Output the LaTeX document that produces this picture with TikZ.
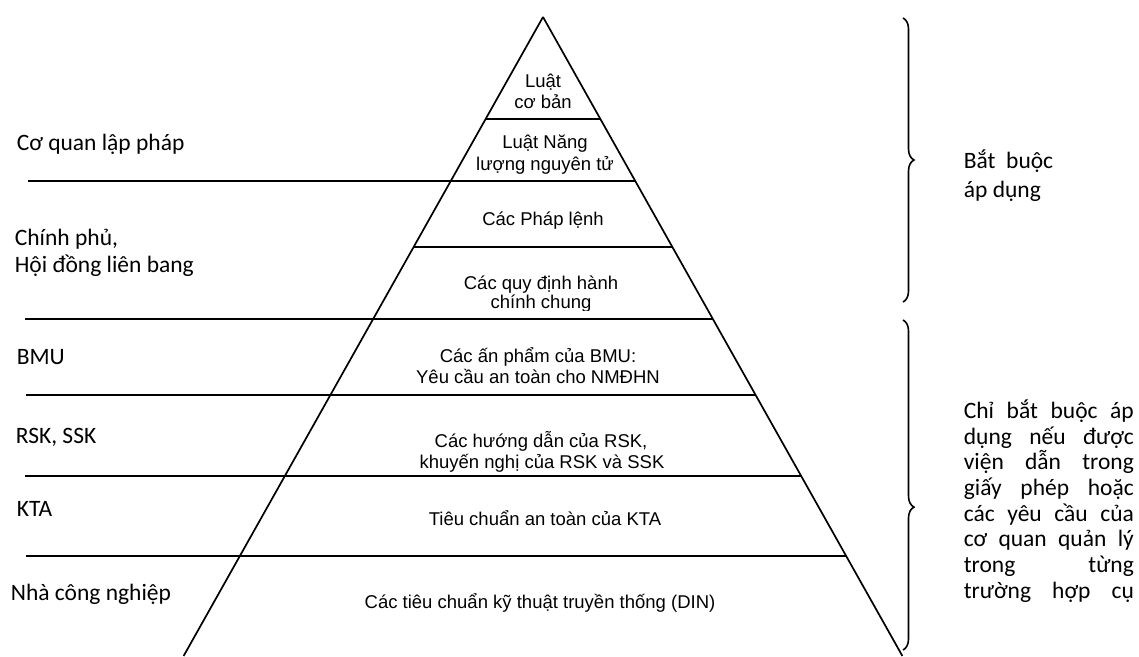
\documentclass[tikz,border=0pt]{standalone}
\usepackage{fontspec}
\setmainfont{Liberation Sans}
\newfontfamily\calibrifont{Carlito}
\usetikzlibrary{calc, decorations.pathreplacing}

\begin{document}
\begin{tikzpicture}[x=1pt, y=-1pt, line width=1.7pt,
  tier/.style={font=\fontsize{18.5}{21.3}\selectfont, inner sep=0pt, anchor=base},
  side/.style={font=\calibrifont\fontsize{23.5}{27}\selectfont, inner sep=0pt, anchor=base west},
  curly/.style={decorate, decoration={brace, amplitude=11pt, aspect=#1}, line width=1.6pt},
  curly/.default=0.5]
  \useasboundingbox (0,0) rectangle (1139,656);

  % pyramid
  \coordinate (apex) at (543,17);
  \coordinate (bl) at (183.6,656);
  \coordinate (br) at (902.4,656);
  \draw (apex) -- (bl);
  \draw (apex) -- (br);
  \draw ($(apex)!{102/639}!(bl)$) -- ($(apex)!{102/639}!(br)$);
  \draw (28,181) -- ($(apex)!{164/639}!(br)$);
  \draw ($(apex)!{230/639}!(bl)$) -- ($(apex)!{230/639}!(br)$);
  \draw (25,319) -- ($(apex)!{302/639}!(br)$);
  \draw (26,395) -- ($(apex)!{378/639}!(br)$);
  \draw (25,476) -- ($(apex)!{459/639}!(br)$);
  \draw (26,556) -- ($(apex)!{539/639}!(br)$);

  % tiers
  \node[tier] (basic1) at (543,87) {Luật};
  \node[tier] (basic2) at (543,108) {cơ bản};
  \node[tier] (atom1) at (545,148) {Luật Năng};
  \node[tier] (atom2) at (545,170) {lượng nguyên tử};
  \node[tier] (ordin) at (543,225) {Các Pháp lệnh};
  \node[tier] (admin1) at (541,289) {Các quy định hành};
  \begin{scope}
    \clip (400,290) rectangle (700,310);
    \node[tier] (admin2) at (541,308) {chính chung};
  \end{scope}
  \node[tier] (bmu1) at (538,362) {Các ấn phẩm của BMU:};
  \node[tier] (bmu2) at (538,383) {Yêu cầu an toàn cho NMĐHN};
  \node[tier] (rsk1) at (541,447) {Các hướng dẫn của RSK,};
  \node[tier] (rsk2) at (542,468) {khuyến nghị của RSK và SSK};
  \node[tier] (kta) at (545,525) {Tiêu chuẩn an toàn của KTA};
  \node[tier] (din) at (540,608) {Các tiêu chuẩn kỹ thuật truyền thống (DIN)};

  % issuing bodies
  \node[side] (legis) at (16,150) {Cơ quan lập pháp};
  \node[side] (gov1) at (14,245) {Chính phủ,};
  \node[side] (gov2) at (14,272) {Hội đồng liên bang};
  \node[side] (bmu) at (16,364) {BMU};
  \node[side] (rsk) at (15,443) {RSK, SSK};
  \node[side] (ktaorg) at (16,516) {KTA};
  \node[side] (indus) at (10,600) {Nhà công nghiệp};

  % braces
  \draw[curly] (903,18) -- (903,302);
  \draw[curly=0.567] (903,320) -- (903,650);
  \node[side] (must1) at (963,168) {Bắt\ \ buộc};
  \node[side] (must2) at (963,197) {áp dụng};
  \node[side] (cond1) at (963,418) {\makebox[170pt][s]{Chỉ bắt buộc áp}};
  \node[side] (cond2) at (963,444) {\makebox[170pt][s]{dụng nếu được}};
  \node[side] (cond3) at (963,469) {\makebox[170pt][s]{viện dẫn trong}};
  \node[side] (cond4) at (963,495) {\makebox[170pt][s]{giấy phép hoặc}};
  \node[side] (cond5) at (963,521) {\makebox[170pt][s]{các yêu cầu của}};
  \node[side] (cond6) at (963,546) {\makebox[170pt][s]{cơ quan quản lý}};
  \node[side] (cond7) at (963,572) {\makebox[170pt][s]{trong từng}};
  \node[side] (cond8) at (963,598) {\makebox[170pt][s]{trường hợp cụ}};
\end{tikzpicture}
\end{document}
